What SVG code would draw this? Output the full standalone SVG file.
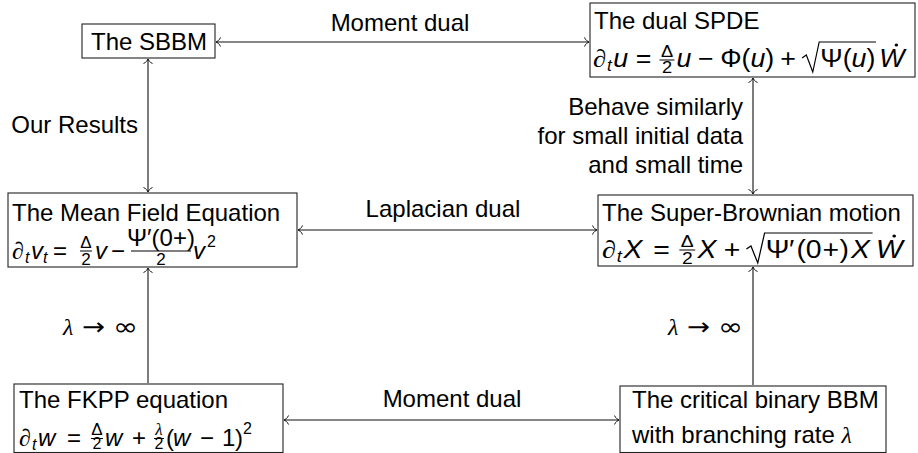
<svg xmlns="http://www.w3.org/2000/svg" width="918" height="453" viewBox="0 0 918 453">
<style>
.t{font-family:"Liberation Sans",Arial,sans-serif;font-size:24px;fill:#000}
.mm{font-size:25px}
.i{font-style:italic}
.m{font-family:"Liberation Serif","Times New Roman",serif;font-style:italic}
.d{font-family:"DejaVu Sans","Liberation Sans",sans-serif;font-style:normal}
.s{font-size:16px}
.f{font-size:17px}
.box{fill:#fff;stroke:#222;stroke-width:1.1}
.bar{stroke:#000;stroke-width:1}
.c{stroke:#111;stroke-width:1.1;fill:none}
.b{marker-start:url(#ah);marker-end:url(#ah)}
.e{marker-end:url(#ah)}
.rad{stroke:#000;stroke-width:1.1;fill:none}
</style>
<defs>
<marker id="ah" viewBox="-6 -6 8 12" markerWidth="8" markerHeight="12" refX="0" refY="0" orient="auto-start-reverse" markerUnits="userSpaceOnUse">
<path d="M-4.5,-4.5 C-3.5,-1.8 -1,-0.4 0,0 C-1,0.4 -3.5,1.8 -4.5,4.5" fill="none" stroke="#111" stroke-width="1"/>
</marker>
</defs>

<g id="connectors">
<line class="c b" x1="216" y1="42" x2="589" y2="42"/>
<line class="c b" x1="148" y1="59" x2="148" y2="192"/>
<line class="c b" x1="753" y1="78" x2="753" y2="194"/>
<line class="c b" x1="298" y1="230" x2="597" y2="230"/>
<line class="c e" x1="148" y1="383" x2="148" y2="268"/>
<line class="c e" x1="753" y1="385" x2="753" y2="267"/>
<line class="c b" x1="284" y1="420" x2="619" y2="420"/>
<text class="t" x="400" y="31" text-anchor="middle">Moment dual</text>
<text class="t" x="138" y="133" text-anchor="end">Our Results</text>
<text class="t" x="743" y="115" text-anchor="end">Behave similarly</text>
<text class="t" x="743" y="144" text-anchor="end">for small initial data</text>
<text class="t" x="743" y="173" text-anchor="end">and small time</text>
<text class="t" x="443" y="217" text-anchor="middle">Laplacian dual</text>
<text class="t" x="452" y="407" text-anchor="middle">Moment dual</text>
<text class="t m" x="63" y="335">λ</text>
<text class="t d" x="82" y="335" textLength="23" lengthAdjust="spacingAndGlyphs">→</text>
<text class="t d" x="113" y="335" textLength="25" lengthAdjust="spacingAndGlyphs">∞</text>
<text class="t m" x="668" y="335">λ</text>
<text class="t d" x="687" y="335" textLength="23" lengthAdjust="spacingAndGlyphs">→</text>
<text class="t d" x="718" y="335" textLength="25" lengthAdjust="spacingAndGlyphs">∞</text>
</g>

<g id="sbbm">
<rect class="box" x="82" y="24" width="133" height="34"/>
<text class="t" x="91" y="50">The SBBM</text>
</g>

<g id="dual-spde">
<rect class="box" x="590" y="3" width="325" height="74"/>
<text class="t" x="594" y="29">The dual SPDE</text>
<g transform="translate(593,67) scale(1.072,1)">
<text class="t mm m" x="0" y="0">∂</text>
<text class="t i s" x="13" y="4">t</text>
<text class="t mm i" x="19" y="0">u</text>
<text class="t mm" x="40" y="0">=</text>
<text class="t f" x="69" y="-10" text-anchor="middle">Δ</text>
<line class="bar" x1="62" y1="-7" x2="76" y2="-7"/>
<text class="t f" x="69" y="6" text-anchor="middle">2</text>
<text class="t mm i" x="78" y="0">u</text>
<text class="t mm" x="98" y="0">−</text>
<text class="t mm" x="118.6" y="0">Φ(<tspan class="i">u</tspan>)</text>
<text class="t mm" x="174.6" y="0">+</text>
<path class="rad" d="M195,-9 L199,-12 L205,5 L211,-25 L264,-25"/>
<text class="t mm" x="212" y="0">Ψ(<tspan class="i">u</tspan>)</text>
<text class="t mm i" x="267" y="0">W</text>
<circle cx="283" cy="-22" r="1.6" fill="#000"/>
</g>
</g>

<g id="mean-field">
<rect class="box" x="8" y="193" width="289" height="74"/>
<text class="t" x="12" y="221">The Mean Field Equation</text>
<text class="t m" x="12" y="259">∂</text>
<text class="t i s" x="25" y="263">t</text>
<text class="t i" x="31" y="259">v</text>
<text class="t i s" x="43" y="263">t</text>
<text class="t" x="53" y="259">=</text>
<text class="t f" x="86" y="248" text-anchor="middle">Δ</text>
<line class="bar" x1="80" y1="251" x2="92" y2="251"/>
<text class="t f" x="86" y="265" text-anchor="middle">2</text>
<text class="t i" x="95" y="259">v</text>
<text class="t" x="111" y="259">−</text>
<text class="t" x="161" y="246" text-anchor="middle" font-size="18">Ψ′(0+)</text>
<line class="bar" x1="131" y1="251" x2="191" y2="251"/>
<text class="t f" x="161" y="265" text-anchor="middle">2</text>
<text class="t i" x="193" y="259">v</text>
<text class="t s" x="207" y="247">2</text>
</g>

<g id="super-brownian">
<rect class="box" x="598" y="195" width="315" height="71"/>
<text class="t" x="602" y="221">The Super-Brownian motion</text>
<g transform="translate(602,258) scale(1.137,1)">
<text class="t mm m" x="0" y="0">∂</text>
<text class="t i s" x="13" y="4">t</text>
<text class="t mm i" x="19" y="0">X</text>
<text class="t mm" x="45" y="0">=</text>
<text class="t f" x="75" y="-11" text-anchor="middle">Δ</text>
<line class="bar" x1="68" y1="-8" x2="82" y2="-8"/>
<text class="t f" x="75" y="6" text-anchor="middle">2</text>
<text class="t mm i" x="84" y="0">X</text>
<text class="t mm" x="107" y="0">+</text>
<path class="rad" d="M127,-9 L131,-12 L137,5 L143,-25 L238,-25"/>
<text class="t mm" x="144" y="0">Ψ</text>
<text class="t mm" x="164.5" y="0">′</text>
<text class="t mm" x="171" y="0">(</text>
<text class="t mm" x="179.3" y="0">0</text>
<text class="t mm" x="194" y="0">+</text>
<text class="t mm" x="209" y="0">)</text>
<text class="t mm i" x="219" y="0">X</text>
<text class="t mm i" x="241" y="0">W</text>
<circle cx="257" cy="-22" r="1.6" fill="#000"/>
</g>
</g>

<g id="fkpp">
<rect class="box" x="14" y="384" width="269" height="68.5"/>
<text class="t" x="19" y="408">The FKPP equation</text>
<text class="t m" x="19" y="446">∂</text>
<text class="t i s" x="32" y="450">t</text>
<text class="t i" x="38" y="446">w</text>
<text class="t" x="67" y="446">=</text>
<text class="t f" x="97" y="435" text-anchor="middle">Δ</text>
<line class="bar" x1="91" y1="438.5" x2="103" y2="438.5"/>
<text class="t s" x="97" y="449" text-anchor="middle">2</text>
<text class="t i" x="105" y="446">w</text>
<text class="t" x="132" y="446">+</text>
<text class="t m f" x="159" y="435" text-anchor="middle">λ</text>
<line class="bar" x1="154" y1="438.5" x2="164" y2="438.5"/>
<text class="t s" x="159" y="449" text-anchor="middle">2</text>
<text class="t" x="166" y="446">(</text>
<text class="t i" x="173" y="446">w</text>
<text class="t" x="200" y="446">−</text>
<text class="t" x="222" y="446">1</text>
<text class="t" x="235" y="446">)</text>
<text class="t s" x="243" y="434">2</text>
</g>

<g id="critical-bbm">
<rect class="box" x="620" y="386" width="266" height="66.5"/>
<text class="t" x="632" y="408">The critical binary BBM</text>
<text class="t" x="632" y="443">with branching rate <tspan class="m">λ</tspan></text>
</g>
</svg>
